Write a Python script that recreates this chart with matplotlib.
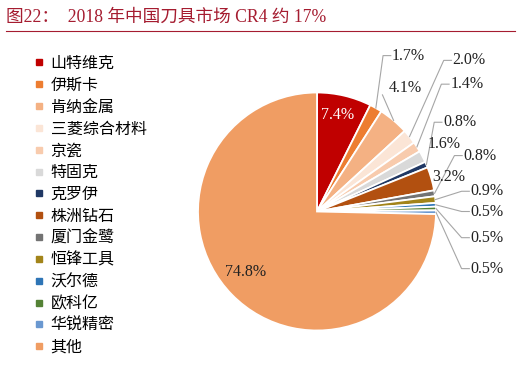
"""
图22：2018 年中国刀具市场 CR4 约 17%  (饼图 + 左侧图例)
输出 out.png, 525x377
"""
import numpy as np
import matplotlib.pyplot as plt
from matplotlib.lines import Line2D

FONTS = ['Liberation Serif', 'Noto Sans CJK SC', 'DejaVu Sans']

# ---- dados ----
empresas = ['山特维克', '伊斯卡', '肯纳金属', '三菱综合材料', '京瓷', '特固克', '克罗伊',
            '株洲钻石', '厦门金鹭', '恒锋工具', '沃尔德', '欧科亿', '华锐精密', '其他']
share = [7.4, 1.7, 4.1, 2.0, 1.4, 1.6, 0.8, 3.2, 0.8, 0.9, 0.5, 0.5, 0.5, 74.8]
labels = ['7.4%', '1.7%', '4.1%', '2.0%', '1.4%', '1.6%', '0.8%', '3.2%', '0.8%',
          '0.9%', '0.5%', '0.5%', '0.5%', '74.8%']
cores = ['#C00000', '#ED7D31', '#F4B183', '#FBE5D6', '#F8CBAD', '#D9D9D9', '#203864',
         '#B25010', '#737373', '#A28419', '#2E75B6', '#548235', '#6A98D0', '#F09D63']

# posicao dos rotulos (coords do pie, raio=1) e tipo de linha guia
label_pos = [(0.17, 0.81), (0.63, 1.31), (0.60, 1.04), (1.14, 1.27), (1.12, 1.07),
             (0.93, 0.57), (1.06, 0.75), (0.97, 0.29), (1.23, 0.47), (1.29, 0.17),
             (1.29, 0.00), (1.29, -0.22), (1.29, -0.48), (-0.60, -0.51)]
guia = [None, 'elbow', 'straight', 'elbow', 'elbow', None, 'elbow', None, 'elbow',
        'elbow', 'elbow', 'elbow', 'elbow', None]
dentro = [True] + [False] * 12 + [True]
texto_cor = ['white'] + ['#222222'] * 13

W, H = 525, 377
CX, CY, R = 317, 211.5, 119

fig = plt.figure(figsize=(W / 100, H / 100), dpi=100)
plt.rcParams['font.family'] = FONTS

# titulo + linha
fig.text(6 / W, 1 - 17 / H, '图22：  2018 年中国刀具市场 CR4 约 17%', color='#A51C30',
         fontsize=12.7, va='center', ha='left', family=FONTS)
fig.add_artist(Line2D([6 / W, 515 / W], [1 - 31 / H, 1 - 31 / H], color='#A51C30', lw=0.8))

ax = fig.add_axes([(CX - R) / W, (H - CY - R) / H, 2 * R / W, 2 * R / H])
wedges, _ = ax.pie(share, colors=cores, startangle=90, counterclock=False,
                   wedgeprops=dict(edgecolor='white', linewidth=1.3))
ax.set_xlim(-1, 1)
ax.set_ylim(-1, 1)

for w, lab, (tx, ty), g, d, c in zip(wedges, labels, label_pos, guia, dentro, texto_cor):
    ang = np.deg2rad((w.theta1 + w.theta2) / 2)
    sx, sy = np.cos(ang), np.sin(ang)
    if g == 'elbow':
        ax.plot([sx, tx - 0.075, tx - 0.01], [sy, ty, ty], color='#A6A6A6', lw=0.8,
                clip_on=False)
    elif g == 'straight':
        ax.plot([sx, tx - 0.05], [sy, ty - 0.06], color='#A6A6A6', lw=0.8, clip_on=False)
    ax.text(tx, ty, lab, ha='center' if d else 'left', va='center', fontsize=11.5,
            color=c, family=FONTS)

handles = [Line2D([], [], marker='s', linestyle='none', markersize=4.5,
                  markerfacecolor=c, markeredgecolor=c) for c in cores]
fig.legend(handles, empresas, loc='upper left', bbox_to_anchor=(33 / W, 1 - 56 / H),
           frameon=False, fontsize=11.5, handlelength=0.7, handletextpad=0.4,
           labelspacing=0.365, borderaxespad=0, borderpad=0)

fig.savefig('out.png', dpi=100)
